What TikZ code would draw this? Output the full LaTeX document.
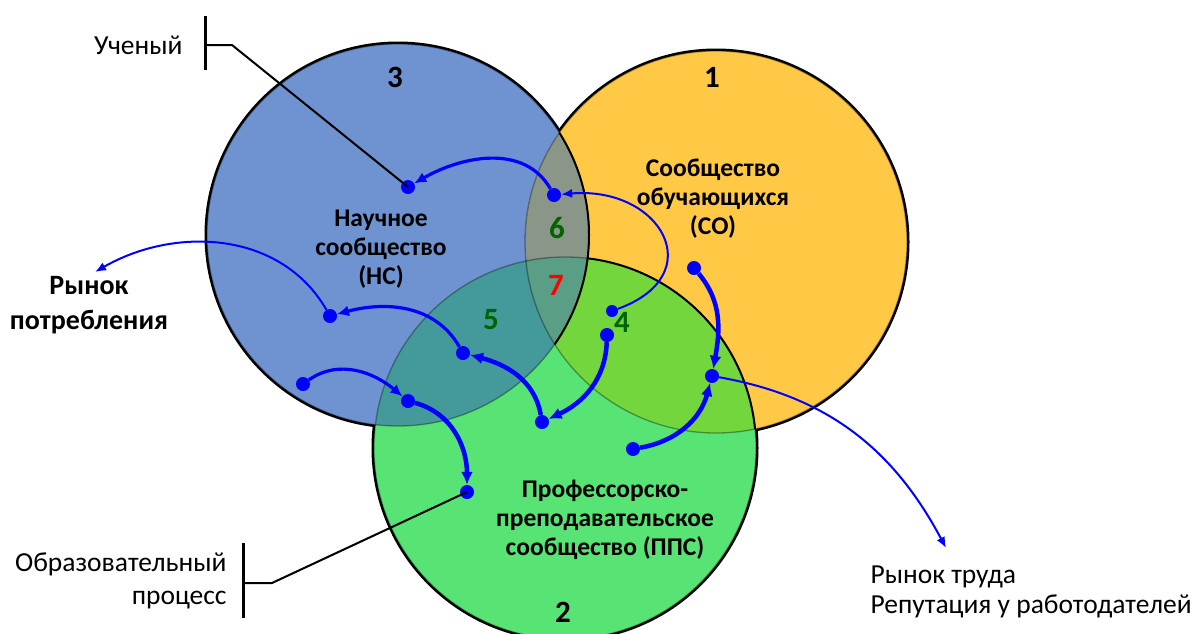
\documentclass[tikz,border=0pt]{standalone}
\usepackage{fontspec}
\setmainfont{Carlito}
\usetikzlibrary{arrows.meta}
\definecolor{nsfill}{RGB}{111,146,208}
\definecolor{cofill}{RGB}{255,201,70}
\definecolor{ppsfill}{RGB}{87,228,116}
\definecolor{sixfill}{RGB}{138,150,136}
\definecolor{fivefill}{RGB}{68,153,155}
\definecolor{fourfill}{RGB}{114,214,60}
\definecolor{sevenfill}{RGB}{90,158,134}
\definecolor{numgreen}{RGB}{0,100,0}
\tikzstyle{dot}=[circle,fill=blue,minimum size=14pt,inner sep=0pt]
\tikzstyle{smalldot}=[circle,fill=blue,minimum size=12pt,inner sep=0pt]
\tikzstyle{bigflow} = [draw,blue,line width=4.5pt,-{Latex[length=13pt,width=12pt]}]
\tikzstyle{midflow} = [draw,blue,line width=3.2pt,-{Latex[length=12pt,width=11pt]}]
\tikzstyle{thinflow} = [draw,blue,line width=2pt,-{Latex[length=11pt,width=9pt]}]
\tikzstyle{leader} = [draw,line width=2pt]
\tikzstyle{tickbar} = [draw,line width=3pt]
\tikzstyle{circlelabel} = [font=\fontsize{25.5}{29}\selectfont\bfseries,align=center]
\tikzstyle{regionnum} = [font=\fontsize{31}{33}\selectfont\bfseries]
\tikzstyle{sidetext} = [font=\fontsize{27.5}{33}\selectfont]

\begin{document}
\begin{tikzpicture}[x=1pt,y=1pt]
  \useasboundingbox (0,0) rectangle (1196,-633);

  \coordinate (ns) at (398,-235);
  \coordinate (co) at (716,-242);
  \coordinate (pps) at (565,-448);

  % outer rims, then fills
  \foreach \c in {ns,co,pps}
    \draw[line width=5pt] (\c) circle[radius=191pt];
  \fill[nsfill] (ns) circle[radius=191pt];
  \fill[cofill] (co) circle[radius=191pt];
  \fill[ppsfill] (pps) circle[radius=191pt];
  \begin{scope}
    \clip (co) circle[radius=191pt];
    \fill[fourfill] (pps) circle[radius=191pt];
  \end{scope}
  \begin{scope}
    \clip (ns) circle[radius=191pt];
    \fill[sixfill] (co) circle[radius=191pt];
    \fill[fivefill] (pps) circle[radius=191pt];
    \clip (co) circle[radius=191pt];
    \fill[sevenfill] (pps) circle[radius=191pt];
  \end{scope}
  \foreach \c in {ns,co,pps}
    \draw[black,draw opacity=0.35,line width=1.3pt] (\c) circle[radius=191pt];
  \begin{scope}
    \clip (co) circle[radius=191pt];
    \draw[line width=2pt] (ns) circle[radius=191pt];
    \begin{scope}[even odd rule]
      \clip (co) circle[radius=191pt] (ns) circle[radius=191pt];
      \draw[line width=2pt] (pps) circle[radius=191pt];
    \end{scope}
  \end{scope}

  % circle numbers and titles
  \node[regionnum] (n3) at (395,-77) {3};
  \node[regionnum] (n1) at (712,-77) {1};
  \node[regionnum] (n2) at (563,-612) {2};
  \node[circlelabel] (nstext) at (381,-249) {Научное\\сообщество\\(НС)};
  \node[circlelabel] (cotext) at (713,-199) {Сообщество\\обучающихся\\(СО)};
  \node[circlelabel] (ppstext) at (605,-520) {Профессорско-\\преподавательское\\сообщество (ППС)};

  \node[regionnum,numgreen] (r6) at (557,-228) {6};
  \node[regionnum,red] (r7) at (556,-285) {7};
  \node[regionnum,numgreen] (r5) at (491,-320) {5};
  \node[regionnum,numgreen] (r4) at (622,-322) {4};

  % dots
  \foreach \pos/\name in {{(408,-187)/sc}, {(554,-195)/six}, {(694,-268)/st}, {(607,-335)/fo},
      {(712,-376)/hub}, {(542,-422)/low}, {(633,-449)/pp}, {(467,-492)/edu},
      {(408,-401)/mid}, {(303,-384)/le}, {(330,-316)/up}, {(463,-353)/fi}}
    \node[dot] (\name) at \pos {};
  \node[smalldot] (fs) at (612,-311) {};

  % side texts
  \node[sidetext,anchor=east] (scient) at (186,-45) {Ученый};
  \node[sidetext,anchor=east,align=right] (eduproc) at (230,-581) {Образовательный\\процесс};
  \node[font=\fontsize{28}{35}\selectfont\bfseries,align=center] (consum) at (89,-305) {Рынок\\потребления};
  \node[sidetext,anchor=west,align=left,font=\fontsize{27.5}{30}\selectfont] (labor) at (867,-592) {Рынок труда\\Репутация у работодателей};
  \coordinate (consumtip) at (95,-272);
  \coordinate (labortip) at (946,-548);

  % leaders
  \coordinate (sbar) at (205,-45);
  \coordinate (ebar) at (243,-583);
  \path[tickbar] (sbar) ++(0,29) -- ++(0,-54);
  \path[tickbar] (ebar) ++(0,40) -- ++(0,-75);
  \path[leader] (sbar) -- ++(27,0) -- (sc.center);
  \path[leader] (ebar) -- ++(29,0) -- (edu.center);

  % flows
  \foreach \source/\dest/\o/\i in {st/hub/-50/80, pp/hub/10/-105, fo/low/-92/25, low/fi/100/-15, mid/edu/-15/90}
    \path[bigflow] (\source) to[out=\o,in=\i] (\dest);
  \foreach \source/\dest/\o/\i in {six/sc/120/30, fi/up/120/15, le/mid/35/140}
    \path[midflow] (\source) to[out=\o,in=\i] (\dest);
  \path[thinflow] (fs) to[out=20,in=5,looseness=2] (six);
  \path[thinflow] (up) to[out=120,in=30] (consumtip);
  \path[thinflow] (hub) to[out=-10,in=118] (labortip);

\end{tikzpicture}
\end{document}
